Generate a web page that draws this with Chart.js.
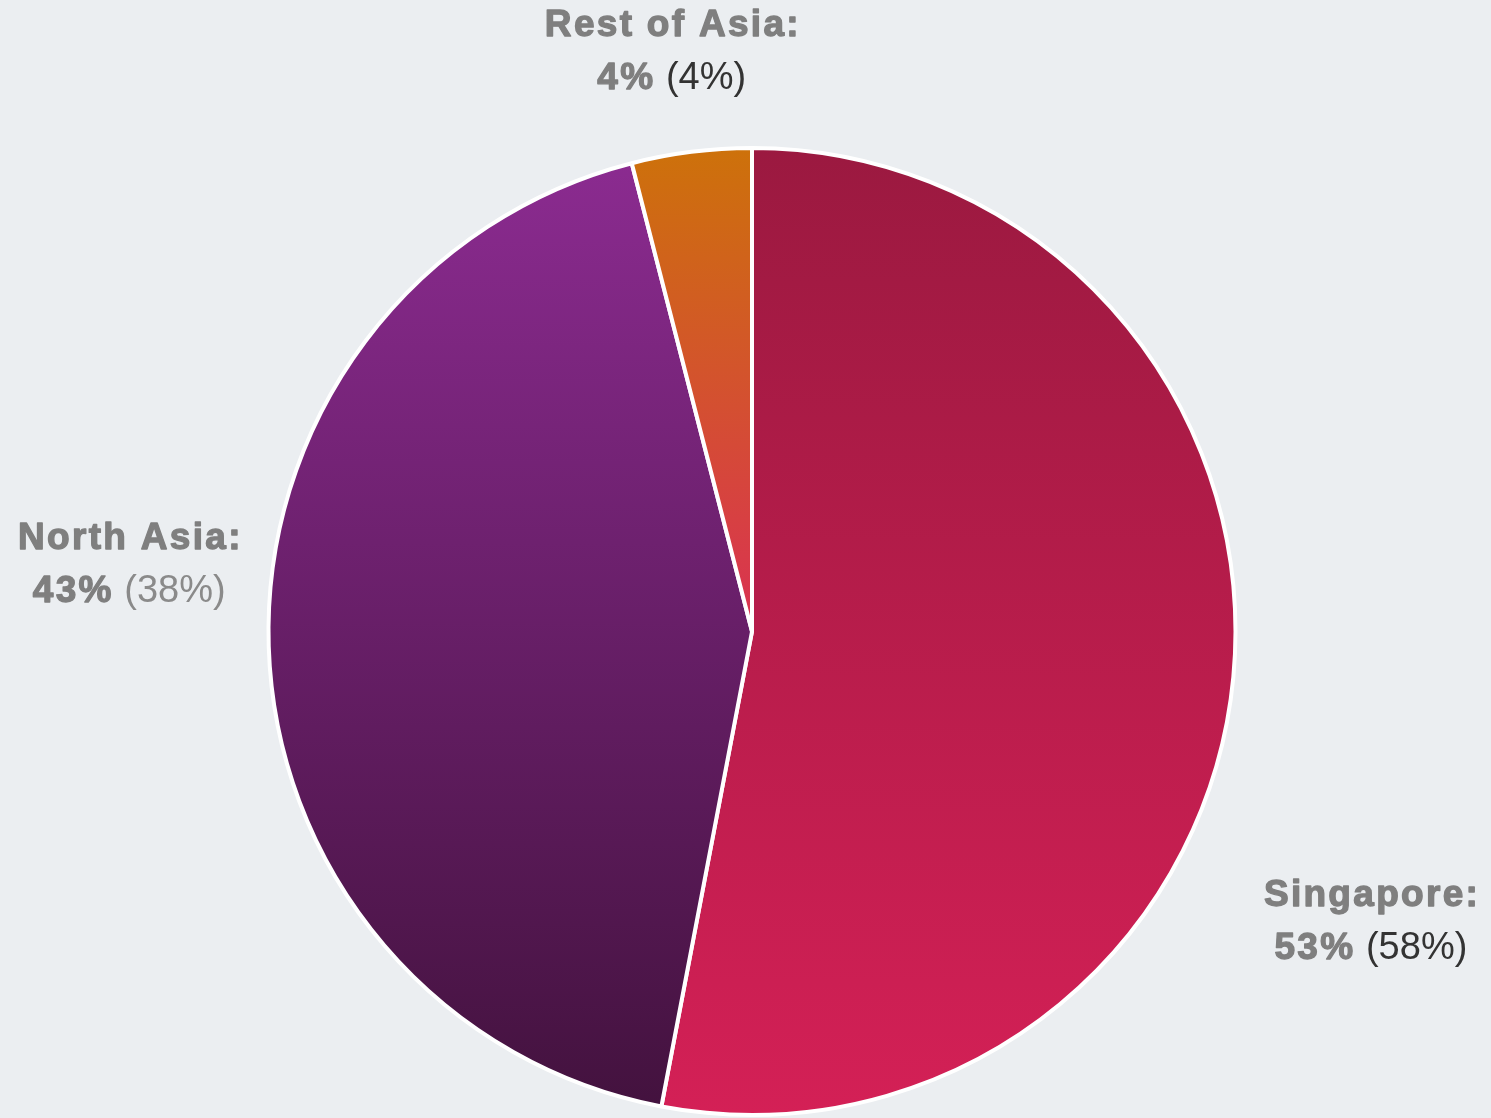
<!DOCTYPE html>
<html>
<head>
<meta charset="utf-8">
<script src="https://cdn.jsdelivr.net/npm/chart.js@4.4.1/dist/chart.umd.min.js"></script>
<style>
  html, body { margin: 0; padding: 0; background: #ebeef1; }
  #wrap { width: 1491px; height: 1118px; position: relative; }
</style>
</head>
<body>
<div id="wrap"><canvas id="regionPie"></canvas></div>
<script>
// Revenue share by region, current year vs. previous year (in brackets)
const regions   = ['Singapore', 'North Asia', 'Rest of Asia'];
const shares    = [53, 43, 4];
const prevShare = [58, 38, 4];

// top / bottom colour of each slice's vertical gradient
const gradTop    = ['#9b1940', '#8b2b90', '#cd720a'];
const gradBottom = ['#d42056', '#43123e', '#da3153'];

// label anchor, in units of the pie radius from its centre
const labelAt = [
  { x:  1.280, y:  0.567 },
  { x: -1.288, y: -0.170 },
  { x: -0.166, y: -1.232 },
];
const prevColor = ['#333333', '#8a8a8a', '#333333'];

const TAU = Math.PI * 2;

// vertical extent of a slice, so the gradient runs over the slice itself
function sliceSpan(cx, cy, r, a0, a1) {
  const ys = [cy, cy + r * Math.sin(a0), cy + r * Math.sin(a1)];
  for (const k of [Math.PI / 2, -Math.PI / 2, 3 * Math.PI / 2]) {
    if (k > a0 && k < a1) ys.push(cy + r * Math.sin(k));
  }
  return [Math.min(...ys), Math.max(...ys)];
}

function sliceFill(ctx) {
  const chart = ctx.chart;
  const area = chart.chartArea;
  if (!area) return gradTop[ctx.dataIndex];
  const total = shares.reduce((a, b) => a + b, 0);
  let start = -Math.PI / 2;
  for (let i = 0; i < ctx.dataIndex; i++) start += TAU * shares[i] / total;
  const end = start + TAU * shares[ctx.dataIndex] / total;
  const cx = (area.left + area.right) / 2;
  const cy = (area.top + area.bottom) / 2;
  const r = Math.min(area.width, area.height) / 2;
  const [y0, y1] = sliceSpan(cx, cy, r, start, end);
  const g = chart.ctx.createLinearGradient(0, y0, 0, y1);
  g.addColorStop(0, gradTop[ctx.dataIndex]);
  g.addColorStop(1, gradBottom[ctx.dataIndex]);
  return g;
}

// bold text gets a thin outline of its own colour to make it heavier
function heavyText(ctx, txt, x, y) {
  ctx.fillText(txt, x, y);
  ctx.strokeText(txt, x, y);
}

const sliceLabels = {
  id: 'sliceLabels',
  afterDatasetsDraw(chart) {
    const ctx = chart.ctx;
    const arcs = chart.getDatasetMeta(0).data;
    const boldFont = 'bold 37px "Liberation Sans", Arial, sans-serif';
    const normFont = '38px "Liberation Sans", Arial, sans-serif';
    const boldGap = '2.3px';
    ctx.save();
    ctx.textBaseline = 'alphabetic';
    ctx.lineWidth = 1.3;
    ctx.lineJoin = 'round';
    arcs.forEach((arc, i) => {
      const R = arc.outerRadius;
      const x = arc.x + labelAt[i].x * R;
      const y = arc.y + labelAt[i].y * R;

      // first line: region name
      ctx.font = boldFont;
      ctx.letterSpacing = boldGap;
      ctx.fillStyle = ctx.strokeStyle = '#7f7f7f';
      ctx.textAlign = 'center';
      heavyText(ctx, regions[i] + ':', x + 1.15, y);

      // second line: bold share + previous share in brackets
      const a = shares[i] + '%';
      const b = ' (' + prevShare[i] + '%)';
      ctx.font = boldFont;
      ctx.letterSpacing = boldGap;
      const wa = ctx.measureText(a).width;
      ctx.font = normFont;
      ctx.letterSpacing = '0px';
      const wb = ctx.measureText(b).width;
      const left = x - (wa + wb) / 2;
      ctx.textAlign = 'left';
      ctx.font = boldFont;
      ctx.letterSpacing = boldGap;
      ctx.fillStyle = ctx.strokeStyle = '#7f7f7f';
      heavyText(ctx, a, left, y + 53);
      ctx.font = normFont;
      ctx.letterSpacing = '0px';
      ctx.fillStyle = prevColor[i];
      ctx.fillText(b, left + wa, y + 53);
    });
    ctx.restore();
  }
};

new Chart(document.getElementById('regionPie'), {
  type: 'pie',
  data: {
    labels: regions,
    datasets: [{
      data: shares,
      backgroundColor: sliceFill,
      borderColor: '#ffffff',
      borderWidth: 4,
    }],
  },
  options: {
    responsive: true,
    maintainAspectRatio: false,
    animation: false,
    layout: { padding: { top: 146, bottom: 1, left: 13, right: 0 } },
    plugins: {
      legend: { display: false },
      tooltip: { enabled: false },
    },
  },
  plugins: [sliceLabels],
});
</script>
</body>
</html>
